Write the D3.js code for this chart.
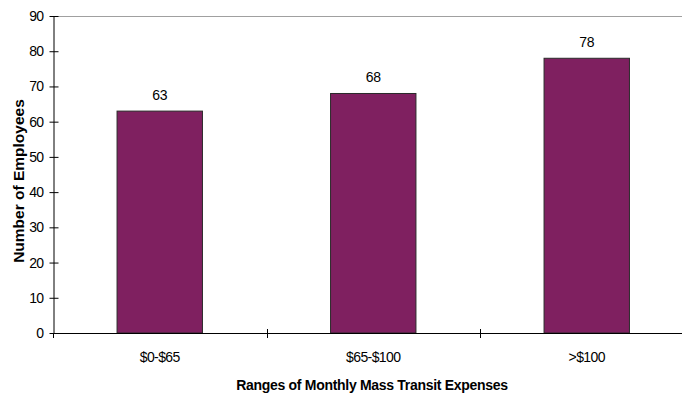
<!DOCTYPE html>
<html>
<head>
<meta charset="utf-8">
<script src="https://cdn.jsdelivr.net/npm/d3@7"></script>
<style>
  html, body { margin: 0; padding: 0; background: #fff; }
  svg { display: block; font-family: Arial, "Liberation Sans", sans-serif; }
</style>
</head>
<body>
<svg id="chart" width="682" height="394"></svg>
<script>
// Monthly mass transit expense ranges and employee counts
const categories = ["$0-$65", "$65-$100", ">$100"];
const employees = [63, 68, 78];
const yTicks = [0, 10, 20, 30, 40, 50, 60, 70, 80, 90];

const svg = d3.select("#chart");
const plotLeft = 53, plotRight = 693.5, plotTop = 16, plotBottom = 333;

const x = d3.scaleBand().domain(categories).range([plotLeft, plotRight]).paddingInner(0).paddingOuter(0);
const y = d3.scaleLinear().domain([0, 90]).range([plotBottom, plotTop]);
const barW = x.bandwidth() * 0.4;

// top frame line
svg.append("line")
  .attr("x1", plotLeft).attr("x2", 682)
  .attr("y1", plotTop + 0.5).attr("y2", plotTop + 0.5)
  .attr("stroke", "#a0a0a0").attr("stroke-width", 1);

// bars
svg.append("g").selectAll("rect")
  .data(categories)
  .join("rect")
  .attr("x", d => x(d) + (x.bandwidth() - barW) / 2)
  .attr("y", (d, i) => y(employees[i]))
  .attr("width", barW)
  .attr("height", (d, i) => plotBottom - y(employees[i]))
  .attr("fill", "#7f2060")
  .attr("stroke", "#2a2a2a")
  .attr("stroke-width", 1);

// value labels
svg.append("g").selectAll("text")
  .data(categories)
  .join("text")
  .attr("x", d => x(d) + x.bandwidth() / 2)
  .attr("y", (d, i) => y(employees[i]) - 11)
  .attr("text-anchor", "middle")
  .attr("font-size", 14)
  .attr("letter-spacing", "-0.4")
  .attr("fill", "#000")
  .text((d, i) => employees[i]);

// y axis
const yAxis = d3.axisLeft(y).tickValues(yTicks).tickSizeInner(4).tickSizeOuter(0).tickPadding(6);
const gy = svg.append("g").attr("transform", `translate(${plotLeft + 0.5},0)`).call(yAxis);
gy.select(".domain").attr("stroke", "#000");
gy.selectAll(".tick line").attr("x1", -4).attr("x2", 5).attr("stroke", "#000");
gy.selectAll(".tick text").attr("font-size", 14).attr("font-family", "Arial, 'Liberation Sans', sans-serif")
  .attr("letter-spacing", "-0.6").attr("fill", "#000");

// x axis: ticks on category boundaries
svg.append("line")
  .attr("x1", plotLeft).attr("x2", 682)
  .attr("y1", plotBottom + 0.5).attr("y2", plotBottom + 0.5)
  .attr("stroke", "#000");
svg.append("g").selectAll("line")
  .data(categories.slice(1))
  .join("line")
  .attr("x1", d => Math.round(x(d)) + 0.5).attr("x2", d => Math.round(x(d)) + 0.5)
  .attr("y1", plotBottom - 4).attr("y2", plotBottom + 5)
  .attr("stroke", "#000");
svg.append("line")
  .attr("x1", plotLeft + 0.5).attr("x2", plotLeft + 0.5)
  .attr("y1", plotBottom).attr("y2", plotBottom + 5)
  .attr("stroke", "#000");

svg.append("g").selectAll("text")
  .data(categories)
  .join("text")
  .attr("x", d => x(d) + x.bandwidth() / 2)
  .attr("y", 362)
  .attr("text-anchor", "middle")
  .attr("font-size", 14)
  .attr("letter-spacing", "-0.6")
  .attr("fill", "#000")
  .text(d => d);

// axis titles
svg.append("text")
  .attr("x", 372).attr("y", 390)
  .attr("text-anchor", "middle")
  .attr("font-size", 14).attr("font-weight", "bold")
  .attr("letter-spacing", "-0.3")
  .text("Ranges of Monthly Mass Transit Expenses");

svg.append("text")
  .attr("transform", "translate(23.5,181) rotate(-90)")
  .attr("text-anchor", "middle")
  .attr("font-size", 15.5).attr("font-weight", "bold")
  .text("Number of Employees");
</script>
</body>
</html>
